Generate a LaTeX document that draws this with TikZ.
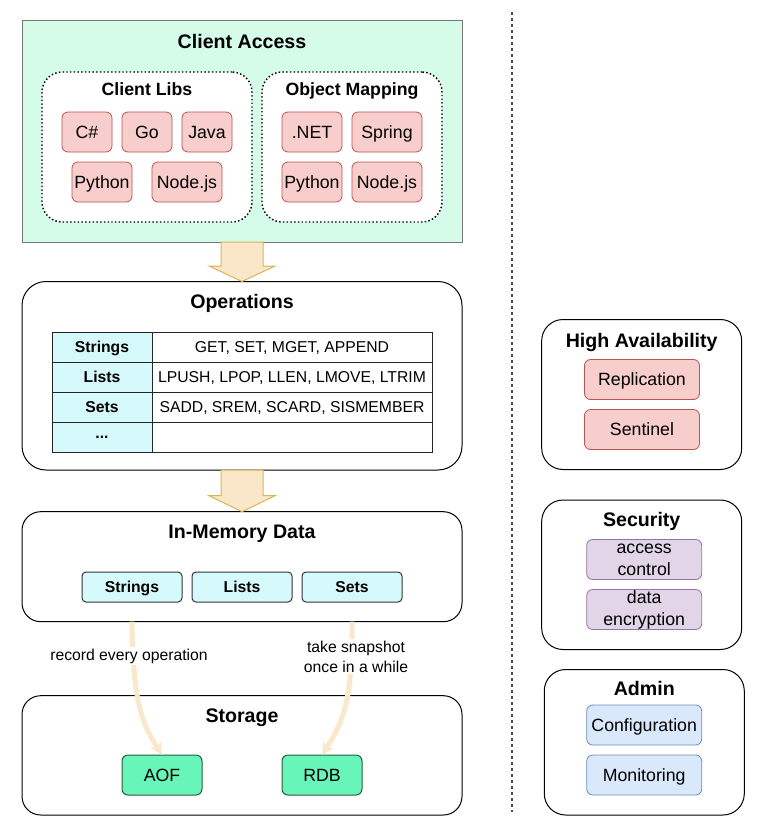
\documentclass[tikz,border=0pt]{standalone}
\usepackage{fontspec}
\setmainfont{Liberation Sans}
\usetikzlibrary{arrows.meta,calc}
\definecolor{cagreen}{RGB}{213,252,232}
\definecolor{cagray}{RGB}{120,120,120}
\definecolor{pinkf}{RGB}{248,206,204}
\definecolor{pinkd}{RGB}{184,84,80}
\definecolor{cyanf}{RGB}{214,250,252}
\definecolor{greenf}{RGB}{104,245,185}
\definecolor{greend}{RGB}{40,90,60}
\definecolor{purpf}{RGB}{225,213,231}
\definecolor{purpd}{RGB}{150,115,166}
\definecolor{bluef}{RGB}{218,232,252}
\definecolor{blued}{RGB}{108,142,191}
\definecolor{arrf}{RGB}{250,230,200}
\definecolor{arrd}{RGB}{214,182,86}
\definecolor{curvef}{RGB}{250,232,205}
\newcommand{\fttl}{\fontsize{14.7}{17}\selectfont\bfseries}
\newcommand{\fsub}{\fontsize{13.3}{15.5}\selectfont\bfseries}
\newcommand{\fitem}{\fontsize{13.3}{15.5}\selectfont}
\newcommand{\fsm}{\fontsize{11.8}{15}\selectfont}
% \bx[style]{name}{x1}{y1}{x2}{y2}{text}
\newcommand{\bx}[7][]{\node[#1, minimum width={(#5-#3)*0.75pt}, minimum height={(#6-#4)*0.75pt}] (#2) at ({(#3+#5)/2},{(#4+#6)/2}) {#7};}
\tikzset{
  base/.style={inner sep=0pt, outer sep=0pt, align=center},
  capL/.style={text height=10.5pt, text depth=0pt},
  capM/.style={text height=9.5pt, text depth=0pt},
  capS/.style={text height=8.45pt, text depth=0pt},
  ttl/.style={base, font=\fttl, capL},
  subttl/.style={base, font=\fsub, capM},
  cont/.style={base, draw=black, line width=0.75pt, fill=white},
  dotbox/.style={base, draw=black, line width=1.1pt, dash pattern=on 1.1pt off 1.7pt, rounded corners=15pt, fill=white},
  pinkbox/.style={base, draw=pinkd, fill=pinkf, line width=0.6pt, rounded corners=4.5pt, font=\fitem, capM},
  purpbox/.style={base, draw=purpd, fill=purpf, line width=0.6pt, rounded corners=4.5pt, font=\fitem},
  bluebox/.style={base, draw=blued, fill=bluef, line width=0.6pt, rounded corners=4.5pt, font=\fitem, capM},
  greenbox/.style={base, draw=greend, fill=greenf, line width=0.75pt, rounded corners=4.5pt, font=\fitem, capM},
  cyanbox/.style={base, draw=black!80, fill=cyanf, line width=0.75pt, rounded corners=3pt, font=\fsm\bfseries, capS},
  hcell/.style={base, draw=black!85, fill=cyanf, line width=0.75pt, font=\fsm\bfseries, capS},
  vcell/.style={base, draw=black!85, fill=white, line width=0.75pt, font=\fsm, capS},
  blockarr/.style={draw=arrd, fill=arrf, line width=0.75pt, line join=miter},
  curvearr/.style={draw=curvef, line width=3.75pt, -{Stealth[length=9pt,width=9pt,inset=2pt]}},
  lbl/.style={base, font=\fsm, fill=white, inner sep=1.5pt},
}
\begin{document}
\begin{tikzpicture}[x=0.75pt,y=-0.75pt]
\useasboundingbox (0,0) rectangle (762,836);

% ---------- Client Access ----------
\bx[base, draw=cagray, fill=cagreen, line width=0.75pt]{ca}{22}{20}{462}{242}{}
\node[ttl] (caT) at (242,41) {Client Access};
\bx[dotbox]{libs}{42}{72}{252}{222}{}
\node[subttl] (libsT) at (147,89) {Client Libs};
\bx[dotbox]{om}{262}{72}{442}{222}{}
\node[subttl] (omT) at (352,89) {Object Mapping};

\bx[pinkbox]{cs}{62}{112}{112}{152}{C\#}
\bx[pinkbox]{go}{122}{112}{172}{152}{Go}
\bx[pinkbox]{java}{182}{112}{232}{152}{Java}
\bx[pinkbox]{py1}{72}{162}{132}{202}{Python}
\bx[pinkbox]{node1}{152}{162}{222}{202}{Node.js}

\bx[pinkbox]{net}{282}{112}{342}{152}{.NET}
\bx[pinkbox]{spring}{352}{112}{422}{152}{Spring}
\bx[pinkbox]{py2}{282}{162}{342}{202}{Python}
\bx[pinkbox]{node2}{352}{162}{422}{202}{Node.js}

% ---------- Operations ----------
\bx[cont, rounded corners=18pt]{ops}{22}{281.5}{462}{470}{}
\node[ttl] (opsT) at (242,301) {Operations};

\bx[hcell]{h1}{52}{332}{152}{362}{Strings}
\bx[hcell]{h2}{52}{362}{152}{392}{Lists}
\bx[hcell]{h3}{52}{392}{152}{422}{Sets}
\bx[hcell, text height=2pt]{h4}{52}{422}{152}{452}{...}
\bx[vcell]{v1}{152}{332}{432}{362}{GET, SET, MGET, APPEND}
\bx[vcell]{v2}{152}{362}{432}{392}{LPUSH, LPOP, LLEN, LMOVE, LTRIM}
\bx[vcell]{v3}{152}{392}{432}{422}{SADD, SREM, SCARD, SISMEMBER}
\bx[vcell]{v4}{152}{422}{432}{452}{}

% ---------- In-Memory Data ----------
\bx[cont, rounded corners=14pt]{mem}{22}{511.7}{462}{621.7}{}
\node[ttl] (memT) at (242,531) {In-Memory Data};
\bx[cyanbox]{ms}{82}{572}{182}{602}{Strings}
\bx[cyanbox]{ml}{192}{572}{292}{602}{Lists}
\bx[cyanbox]{mset}{302}{572}{402}{602}{Sets}

% ---------- Storage ----------
\bx[cont, rounded corners=14pt]{sto}{22}{695.7}{462}{815}{}
\node[ttl] (stoT) at (242,715) {Storage};
\bx[greenbox]{aof}{122}{755}{202}{795}{AOF}
\bx[greenbox]{rdb}{282}{755}{362}{795}{RDB}

% ---------- block arrows ----------
\draw[blockarr] ($(ca.south)+(-21,0)$) -- ($(ops.north)+(-21,-15.5)$) -- ($(ops.north)+(-33,-15.5)$)
  -- (ops.north) -- ($(ops.north)+(33,-15.5)$) -- ($(ops.north)+(21,-15.5)$) -- ($(ca.south)+(21,0)$) -- cycle;
\draw[blockarr] ($(ops.south)+(-21,0)$) -- ($(mem.north)+(-21,-16)$) -- ($(mem.north)+(-33,-16)$)
  -- (mem.north) -- ($(mem.north)+(33,-16)$) -- ($(mem.north)+(21,-16)$) -- ($(ops.south)+(21,0)$) -- cycle;

% ---------- curved arrows ----------
\draw[curvearr] (ms.center |- mem.south) .. controls (133,700) and (141,722) .. (aof.north);
\draw[curvearr] (mset.center |- mem.south) .. controls (353,700) and (343,722) .. (rdb.north);
\node[lbl] (l1) at (129,656) {record every operation};
\node[lbl, align=center] (l2) at (356,656.5) {take snapshot\\once in a while};

% ---------- separator ----------
\coordinate (sepA) at (511.7,12);
\coordinate (sepB) at (511.7,812);
\draw[black!70, line width=1.3pt, dash pattern=on 2pt off 2.5pt] (sepA) -- (sepB);

% ---------- right column ----------
\bx[cont, rounded corners=16pt]{ha}{541.7}{319.5}{741.7}{469.5}{}
\node[ttl] (haT) at (641.7,340) {High Availability};
\bx[pinkbox]{rep}{584.5}{359.5}{699.5}{399.5}{Replication}
\bx[pinkbox]{sen}{584.5}{409.5}{699.5}{449.5}{Sentinel}

\bx[cont, rounded corners=16pt]{sec}{541.7}{500}{741.7}{649.5}{}
\node[ttl] (secT) at (641.7,519.5) {Security};
\bx[purpbox, font=\fontsize{13.3}{16.5}\selectfont]{acc}{586.7}{539.5}{701.7}{579.5}{access\\control}
\bx[purpbox, font=\fontsize{13.3}{16.5}\selectfont]{enc}{586.7}{589.5}{701.7}{629.5}{data\\encryption}

\bx[cont, rounded corners=16pt]{adm}{544.3}{669.5}{744.3}{815}{}
\node[ttl] (admT) at (644.3,688.5) {Admin};
\bx[bluebox]{conf}{586.7}{705}{701.7}{745}{Configuration}
\bx[bluebox]{mon}{586.7}{755}{701.7}{795}{Monitoring}
\end{tikzpicture}
\end{document}
